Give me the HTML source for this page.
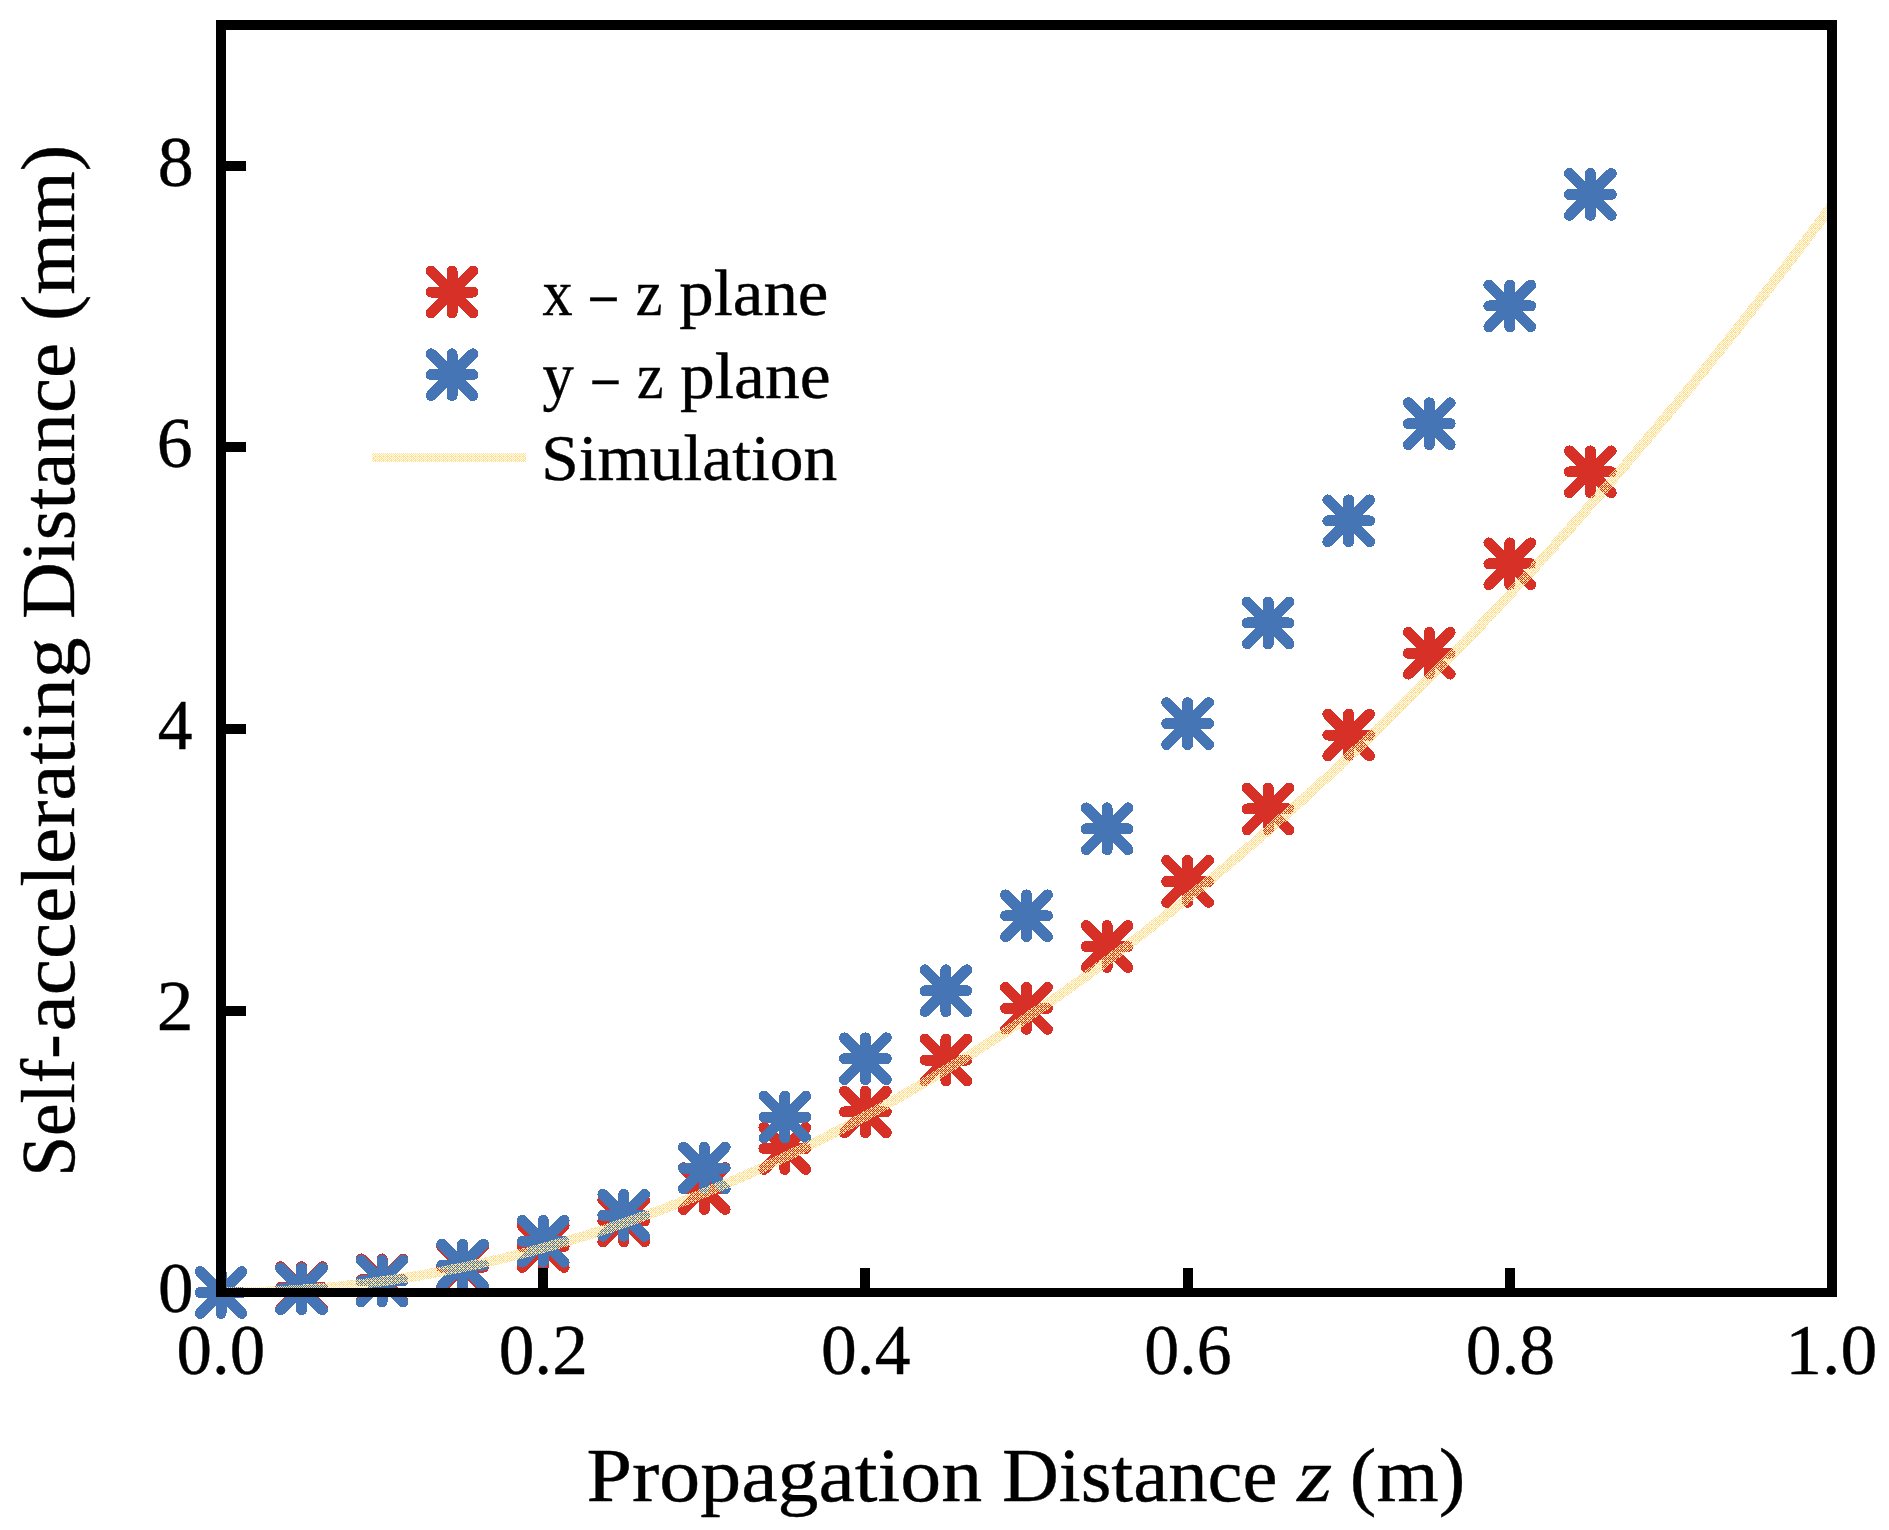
<!DOCTYPE html>
<html lang="en"><head><meta charset="utf-8"><title>Self-accelerating Distance vs Propagation Distance</title>
<style>html,body{margin:0;padding:0;background:#fff;overflow:hidden}svg{display:block}text{font-family:"Liberation Serif",serif;fill:#000;stroke:#000;stroke-width:0.4px;stroke-linejoin:round}</style></head><body>
<svg width="1889" height="1530" viewBox="0 0 1889 1530">
<defs><pattern id="dz" width="8" height="8" patternUnits="userSpaceOnUse"><g fill="#fee090" shape-rendering="crispEdges"><rect x="0" y="0" width="1" height="1"/><rect x="2" y="0" width="1" height="1"/><rect x="3" y="0" width="1" height="1"/><rect x="4" y="0" width="1" height="1"/><rect x="6" y="0" width="1" height="1"/><rect x="7" y="0" width="1" height="1"/><rect x="1" y="1" width="1" height="1"/><rect x="3" y="1" width="1" height="1"/><rect x="5" y="1" width="1" height="1"/><rect x="7" y="1" width="1" height="1"/><rect x="0" y="2" width="1" height="1"/><rect x="2" y="2" width="1" height="1"/><rect x="4" y="2" width="1" height="1"/><rect x="5" y="2" width="1" height="1"/><rect x="6" y="2" width="1" height="1"/><rect x="1" y="3" width="1" height="1"/><rect x="3" y="3" width="1" height="1"/><rect x="5" y="3" width="1" height="1"/><rect x="7" y="3" width="1" height="1"/><rect x="0" y="4" width="1" height="1"/><rect x="2" y="4" width="1" height="1"/><rect x="3" y="4" width="1" height="1"/><rect x="4" y="4" width="1" height="1"/><rect x="6" y="4" width="1" height="1"/><rect x="7" y="4" width="1" height="1"/><rect x="1" y="5" width="1" height="1"/><rect x="3" y="5" width="1" height="1"/><rect x="5" y="5" width="1" height="1"/><rect x="7" y="5" width="1" height="1"/><rect x="0" y="6" width="1" height="1"/><rect x="2" y="6" width="1" height="1"/><rect x="4" y="6" width="1" height="1"/><rect x="6" y="6" width="1" height="1"/><rect x="1" y="7" width="1" height="1"/><rect x="3" y="7" width="1" height="1"/><rect x="5" y="7" width="1" height="1"/><rect x="7" y="7" width="1" height="1"/></g></pattern><g id="mk" fill="none" stroke-width="11.0" stroke-linecap="round" shape-rendering="crispEdges"><path d="M-20.9,0H20.9M0,-20.9V20.9M-20.9,-20.9L20.9,20.9M-20.9,20.9L20.9,-20.9"/></g><clipPath id="ax"><rect x="221" y="25" width="1611" height="1267.5"/></clipPath></defs>
<rect width="1889" height="1530" fill="#fff"/>
<g stroke="#d73027">
<use href="#mk" x="221.00" y="1292.50"/>
<use href="#mk" x="301.55" y="1287.57"/>
<use href="#mk" x="382.10" y="1279.83"/>
<use href="#mk" x="462.65" y="1267.15"/>
<use href="#mk" x="543.20" y="1246.45"/>
<use href="#mk" x="623.75" y="1220.97"/>
<use href="#mk" x="704.30" y="1188.58"/>
<use href="#mk" x="784.85" y="1148.45"/>
<use href="#mk" x="865.40" y="1111.98"/>
<use href="#mk" x="945.95" y="1060.02"/>
<use href="#mk" x="1026.50" y="1008.34"/>
<use href="#mk" x="1107.05" y="946.52"/>
<use href="#mk" x="1187.60" y="881.47"/>
<use href="#mk" x="1268.15" y="808.95"/>
<use href="#mk" x="1348.70" y="735.02"/>
<use href="#mk" x="1429.25" y="653.21"/>
<use href="#mk" x="1509.80" y="563.80"/>
<use href="#mk" x="1590.35" y="471.84"/>
</g>
<g stroke="#4575b4">
<use href="#mk" x="221.00" y="1292.50"/>
<use href="#mk" x="301.55" y="1288.84"/>
<use href="#mk" x="382.10" y="1280.95"/>
<use href="#mk" x="462.65" y="1265.04"/>
<use href="#mk" x="543.20" y="1241.24"/>
<use href="#mk" x="623.75" y="1215.33"/>
<use href="#mk" x="704.30" y="1168.02"/>
<use href="#mk" x="784.85" y="1117.05"/>
<use href="#mk" x="865.40" y="1058.75"/>
<use href="#mk" x="945.95" y="990.74"/>
<use href="#mk" x="1026.50" y="915.83"/>
<use href="#mk" x="1107.05" y="828.80"/>
<use href="#mk" x="1187.60" y="723.62"/>
<use href="#mk" x="1268.15" y="622.94"/>
<use href="#mk" x="1348.70" y="520.85"/>
<use href="#mk" x="1429.25" y="423.69"/>
<use href="#mk" x="1509.80" y="305.97"/>
<use href="#mk" x="1590.35" y="194.44"/>
</g>
<path d="M221.00,1292.50 L229.06,1292.47 L237.11,1292.38 L245.16,1292.24 L253.22,1292.04 L261.27,1291.78 L269.33,1291.47 L277.38,1291.10 L285.44,1290.67 L293.50,1290.19 L301.55,1289.66 L309.61,1289.07 L317.66,1288.42 L325.72,1287.71 L333.77,1286.96 L341.82,1286.14 L349.88,1285.27 L357.94,1284.35 L365.99,1283.37 L374.05,1282.34 L382.10,1281.25 L390.15,1280.10 L398.21,1278.90 L406.26,1277.65 L414.32,1276.34 L422.38,1274.98 L430.43,1273.56 L438.49,1272.08 L446.54,1270.56 L454.59,1268.97 L462.65,1267.33 L470.70,1265.64 L478.76,1263.90 L486.81,1262.09 L494.87,1260.24 L502.92,1258.33 L510.98,1256.36 L519.03,1254.34 L527.09,1252.27 L535.14,1250.14 L543.20,1247.95 L551.25,1245.72 L559.31,1243.42 L567.37,1241.08 L575.42,1238.68 L583.48,1236.22 L591.53,1233.71 L599.59,1231.15 L607.64,1228.53 L615.69,1225.86 L623.75,1223.13 L631.81,1220.35 L639.86,1217.51 L647.91,1214.62 L655.97,1211.68 L664.03,1208.68 L672.08,1205.63 L680.13,1202.52 L688.19,1199.36 L696.24,1196.15 L704.30,1192.88 L712.36,1189.56 L720.41,1186.18 L728.47,1182.75 L736.52,1179.26 L744.58,1175.73 L752.63,1172.13 L760.69,1168.49 L768.74,1164.78 L776.79,1161.03 L784.85,1157.22 L792.90,1153.36 L800.96,1149.44 L809.01,1145.47 L817.07,1141.44 L825.12,1137.36 L833.18,1133.23 L841.24,1129.05 L849.29,1124.80 L857.35,1120.51 L865.40,1116.16 L873.46,1111.76 L881.51,1107.30 L889.56,1102.79 L897.62,1098.23 L905.67,1093.61 L913.73,1088.94 L921.78,1084.21 L929.84,1079.44 L937.89,1074.60 L945.95,1069.72 L954.00,1064.77 L962.06,1059.78 L970.12,1054.73 L978.17,1049.63 L986.22,1044.48 L994.28,1039.27 L1002.33,1034.00 L1010.39,1028.69 L1018.44,1023.32 L1026.50,1017.89 L1034.56,1012.41 L1042.61,1006.88 L1050.66,1001.30 L1058.72,995.66 L1066.78,989.97 L1074.83,984.22 L1082.89,978.42 L1090.94,972.57 L1099.00,966.66 L1107.05,960.70 L1115.11,954.68 L1123.16,948.62 L1131.21,942.49 L1139.27,936.32 L1147.32,930.09 L1155.38,923.81 L1163.43,917.47 L1171.49,911.08 L1179.55,904.64 L1187.60,898.14 L1195.65,891.59 L1203.71,884.99 L1211.76,878.33 L1219.82,871.62 L1227.88,864.86 L1235.93,858.04 L1243.99,851.17 L1252.04,844.24 L1260.10,837.27 L1268.15,830.23 L1276.21,823.15 L1284.26,816.01 L1292.32,808.82 L1300.37,801.57 L1308.43,794.27 L1316.48,786.92 L1324.54,779.52 L1332.59,772.06 L1340.64,764.54 L1348.70,756.98 L1356.75,749.36 L1364.81,741.68 L1372.87,733.96 L1380.92,726.18 L1388.97,718.34 L1397.03,710.46 L1405.09,702.52 L1413.14,694.52 L1421.19,686.48 L1429.25,678.38 L1437.31,670.22 L1445.36,662.02 L1453.41,653.76 L1461.47,645.44 L1469.53,637.08 L1477.58,628.66 L1485.63,620.18 L1493.69,611.65 L1501.75,603.07 L1509.80,594.44 L1517.86,585.75 L1525.91,577.01 L1533.96,568.22 L1542.02,559.37 L1550.07,550.47 L1558.13,541.52 L1566.18,532.51 L1574.24,523.45 L1582.29,514.34 L1590.35,505.17 L1598.40,495.95 L1606.46,486.68 L1614.51,477.35 L1622.57,467.97 L1630.62,458.54 L1638.68,449.06 L1646.74,439.52 L1654.79,429.92 L1662.85,420.28 L1670.90,410.58 L1678.96,400.83 L1687.01,391.02 L1695.07,381.16 L1703.12,371.25 L1711.18,361.29 L1719.23,351.27 L1727.29,341.20 L1735.34,331.07 L1743.39,320.89 L1751.45,310.66 L1759.50,300.38 L1767.56,290.04 L1775.62,279.65 L1783.67,269.21 L1791.72,258.71 L1799.78,248.16 L1807.84,237.56 L1815.89,226.90 L1823.94,216.19 L1832.00,205.43" fill="none" stroke="url(#dz)" stroke-width="10" shape-rendering="crispEdges" clip-path="url(#ax)"/>
<use href="#mk" x="452" y="292.1" stroke="#d73027"/><use href="#mk" x="452" y="374.7" stroke="#4575b4"/>
<rect x="372" y="453" width="154" height="9" fill="url(#dz)"/>
<g fill="#000" shape-rendering="crispEdges">
<path fill-rule="evenodd" d="M216,20H1837V1297H216ZM226,30V1288H1827V30Z"/>
<rect x="538" y="1268" width="10" height="21"/>
<rect x="860" y="1268" width="10" height="21"/>
<rect x="1183" y="1268" width="10" height="21"/>
<rect x="1505" y="1268" width="10" height="21"/>
<rect x="225" y="161" width="21" height="10"/>
<rect x="225" y="442" width="21" height="10"/>
<rect x="225" y="724" width="21" height="10"/>
<rect x="225" y="1006" width="21" height="10"/>
</g>
<g><text y="1374.00" font-size="71"><tspan x="176.60" textLength="88.64" lengthAdjust="spacingAndGlyphs">0.0</tspan></text>
<text y="1374.00" font-size="71"><tspan x="498.69" textLength="89.18" lengthAdjust="spacingAndGlyphs">0.2</tspan></text>
<text y="1374.00" font-size="71"><tspan x="820.98" textLength="89.47" lengthAdjust="spacingAndGlyphs">0.4</tspan></text>
<text y="1374.00" font-size="71"><tspan x="1144.33" textLength="87.29" lengthAdjust="spacingAndGlyphs">0.6</tspan></text>
<text y="1374.00" font-size="71"><tspan x="1465.68" textLength="89.49" lengthAdjust="spacingAndGlyphs">0.8</tspan></text>
<text y="1374.00" font-size="71"><tspan x="1785.28" textLength="92.08" lengthAdjust="spacingAndGlyphs">1.0</tspan></text>
<text y="1312.00" font-size="71"><tspan x="158.00" textLength="35.50" lengthAdjust="spacingAndGlyphs">0</tspan></text>
<text y="1030.00" font-size="71"><tspan x="156.70" textLength="36.72" lengthAdjust="spacingAndGlyphs">2</tspan></text>
<text y="749.00" font-size="71"><tspan x="157.82" textLength="34.77" lengthAdjust="spacingAndGlyphs">4</tspan></text>
<text y="467.30" font-size="71"><tspan x="156.76" textLength="35.96" lengthAdjust="spacingAndGlyphs">6</tspan></text>
<text y="185.70" font-size="71"><tspan x="157.77" textLength="35.96" lengthAdjust="spacingAndGlyphs">8</tspan></text>
<text y="1500.60" font-size="77"><tspan x="586.47" textLength="395.71" lengthAdjust="spacingAndGlyphs">Propagation</tspan> <tspan x="1001.95" textLength="275.49" lengthAdjust="spacingAndGlyphs">Distance</tspan> <tspan x="1297.17" textLength="34.96" lengthAdjust="spacingAndGlyphs" font-style="italic">z</tspan> <tspan x="1349.89" textLength="115.42" lengthAdjust="spacingAndGlyphs">(m)</tspan></text>
<text transform="translate(74.20,1172) rotate(-90)" y="0" font-size="77"><tspan x="-4.76" textLength="142.41" lengthAdjust="spacingAndGlyphs">Self-</tspan><tspan x="140.48" textLength="394.06" lengthAdjust="spacingAndGlyphs">accelerating</tspan> <tspan x="552.95" textLength="276.00" lengthAdjust="spacingAndGlyphs">Distance</tspan> <tspan x="850.91" textLength="176.26" lengthAdjust="spacingAndGlyphs">(mm)</tspan></text>
<text y="314.90" font-size="66"><tspan x="542.60" textLength="30.11" lengthAdjust="spacingAndGlyphs">x</tspan> <tspan x="590.59" textLength="25.93" lengthAdjust="spacingAndGlyphs">–</tspan> <tspan x="635.69" textLength="26.69" lengthAdjust="spacingAndGlyphs">z</tspan> <tspan x="679.26" textLength="149.17" lengthAdjust="spacingAndGlyphs">plane</tspan></text>
<text y="398.00" font-size="66"><tspan x="542.60" textLength="31.30" lengthAdjust="spacingAndGlyphs">y</tspan> <tspan x="592.67" textLength="25.46" lengthAdjust="spacingAndGlyphs">–</tspan> <tspan x="637.00" textLength="26.48" lengthAdjust="spacingAndGlyphs">z</tspan> <tspan x="679.95" textLength="150.59" lengthAdjust="spacingAndGlyphs">plane</tspan></text>
<text y="480.30" font-size="66"><tspan x="541.21" textLength="295.89" lengthAdjust="spacingAndGlyphs">Simulation</tspan></text></g>
</svg></body></html>
